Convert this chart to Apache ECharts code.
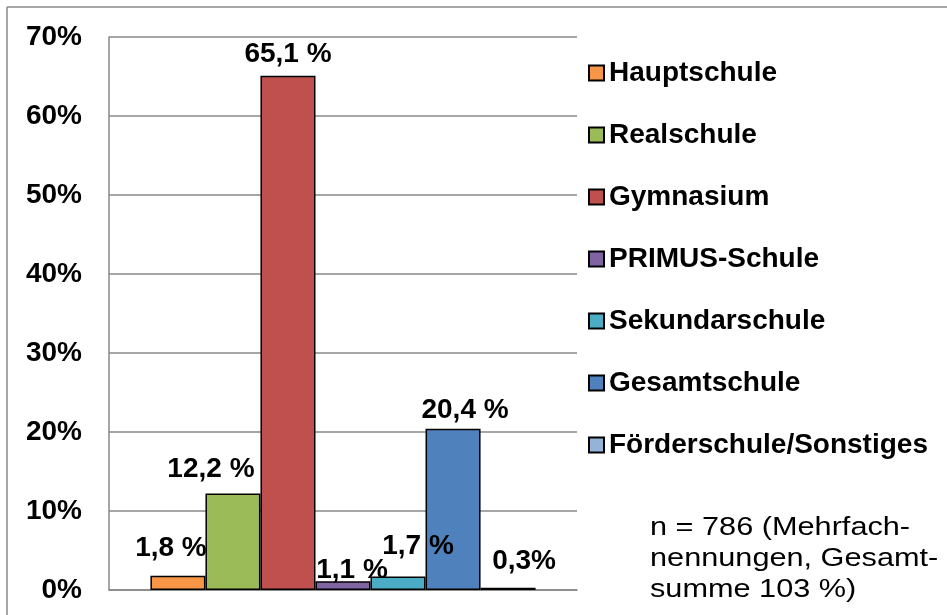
<!DOCTYPE html>
<html lang="de">
<head>
<meta charset="UTF-8">
<title>Schulformen</title>
<script src="https://cdn.jsdelivr.net/npm/echarts@6/dist/echarts.min.js"></script>
<style>
  html, body { margin: 0; padding: 0; background: #fff; }
</style>
</head>
<body>
<div id="main" style="width: 947px;height: 615px"></div>
<script>
    // Schulformen und Anteile (%)
    let schoolTypes = ['Hauptschule', 'Realschule', 'Gymnasium', 'PRIMUS-Schule', 'Sekundarschule', 'Gesamtschule', 'Förderschule/Sonstiges']
    let shares = [1.8, 12.2, 65.1, 1.1, 1.7, 20.4, 0.3]
    let labelTexts = ['1,8 %', '12,2 %', '65,1 %', '1,1 %', '1,7 %', '20,4 %', '0,3%']
    let yTicks = [0, 10, 20, 30, 40, 50, 60, 70]

    let colors = ['#F79646', '#9BBB59', '#C0504D', '#8064A2', '#4BACC6', '#4F81BD', '#95B3D7']
    let labelOffsets = [[-7, -8], [-22, -5], [0, -2], [9, 8], [20, -11], [12, 0], [16, -7]]
    let font = 'Liberation Sans, Arial, sans-serif'

    let mycharts = echarts.init(document.getElementById('main'))

    let series = []
    for (let i = 0; i < schoolTypes.length; i++) {
        series.push({
            name: schoolTypes[i],
            type: 'bar',
            barGap: '0%',
            barCategoryGap: '17.7%',
            itemStyle: { color: colors[i], borderColor: '#000', borderWidth: 1.5 },
            label: {
                show: true,
                position: 'top',
                offset: labelOffsets[i],
                formatter: labelTexts[i],
                color: '#000',
                fontSize: 28,
                fontWeight: 'bold',
                fontFamily: font
            },
            data: [shares[i]]
        })
    }

    mycharts.setOption({
        animation: false,
        textStyle: { fontFamily: font },
        grid: { left: 109, right: 370, top: 37, bottom: 25 },
        xAxis: {
            type: 'category',
            data: [''],
            axisLine: { show: true, lineStyle: { color: '#888', width: 1.5 } },
            axisTick: { show: false },
            axisLabel: { show: false }
        },
        yAxis: {
            type: 'value',
            min: yTicks[0],
            max: yTicks[yTicks.length - 1],
            interval: 10,
            axisLine: { show: true, lineStyle: { color: '#888', width: 1.5 } },
            axisTick: { show: false },
            splitLine: { lineStyle: { color: '#888', width: 1.5 } },
            axisLabel: {
                margin: 27,
                color: '#000',
                fontSize: 28,
                fontWeight: 'bold',
                fontFamily: font,
                formatter: '{value}%'
            }
        },
        legend: {
            orient: 'vertical',
            left: 583,
            top: 54,
            icon: 'rect',
            itemWidth: 15,
            itemHeight: 15,
            itemGap: 34,
            textStyle: { color: '#000', fontSize: 28, fontWeight: 'bold', fontFamily: font, lineHeight: 28, padding: [0, 0, 0, 0] },
            data: schoolTypes
        },
        graphic: [
            { type: 'line', shape: { x1: 7, y1: 7, x2: 947, y2: 7 }, style: { stroke: '#888', lineWidth: 1.5 } },
            { type: 'line', shape: { x1: 7, y1: 7, x2: 7, y2: 615 }, style: { stroke: '#888', lineWidth: 1.5 } },
            {
                type: 'text',
                left: 650,
                top: 512,
                scaleX: 1.18,
                style: {
                    text: 'n = 786 (Mehrfach-\nnennungen, Gesamt-\nsumme 103 %)',
                    fill: '#000',
                    font: '26px ' + font,
                    lineHeight: 31
                }
            }
        ],
        series: series
    })
</script>
</body>
</html>
